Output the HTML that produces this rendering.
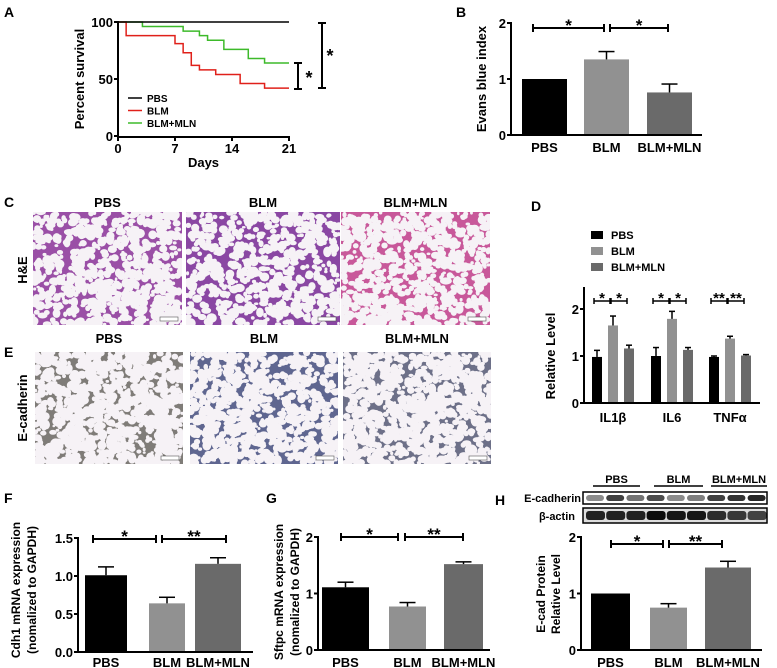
<!DOCTYPE html>
<html><head><meta charset="utf-8"><style>
html,body{margin:0;padding:0;background:#fff;}
svg{display:block;font-family:"Liberation Sans",Arial,sans-serif;font-weight:bold;}
</style></head><body>
<svg id="fig" width="777" height="668" viewBox="0 0 777 668" xmlns="http://www.w3.org/2000/svg">
<g id="g-static" font-size="14">
<text x="4" y="17">A</text>
<text x="456" y="17">B</text>
<text x="4" y="207">C</text>
<text x="531" y="211">D</text>
<text x="4" y="357">E</text>
<text x="4" y="503">F</text>
<text x="266" y="503">G</text>
<text x="495" y="505">H</text>
</g>
<g id="images"></g>
<g id="pa"></g>
<g id="pb"></g>
<g id="pd"></g>
<g id="pf"></g>
<g id="pg"></g>
<g id="ph"></g>
</svg>
<script>
// ---- Data ----
const survDays = [0, 21];
const survTicks = [0, 7, 14, 21];
const survYTicks = [0, 50, 100];
const pbsT = [0, 21];
const pbsV = [100, 100];
const blmT = [0, 1, 7, 8, 9, 10, 12, 15, 18, 21];
const blmV = [100, 88, 81, 73, 62, 58, 54, 46, 42, 42];
const mlnT = [0, 3, 8, 10, 11, 13, 16, 18, 21];
const mlnV = [100, 96, 92, 88, 84, 76, 68, 64, 64];

const groups = ["PBS", "BLM", "BLM+MLN"];
const evansVals = [1.0, 1.35, 0.76];
const evansErr = [0, 0.14, 0.15];
const evansTicks = [0, 1, 2];

const cytoCats = ["IL1β", "IL6", "TNFα"];
const cytoPBS = [0.98, 1.0, 0.98];
const cytoBLM = [1.65, 1.79, 1.37];
const cytoMLN = [1.16, 1.13, 1.01];
const cytoErrPBS = [0.14, 0.18, 0.02];
const cytoErrBLM = [0.2, 0.16, 0.05];
const cytoErrMLN = [0.07, 0.05, 0.02];
const cytoTicks = [0, 1, 2];

const cdh1Vals = [1.01, 0.64, 1.16];
const cdh1Err = [0.11, 0.08, 0.08];
const cdh1Ticks = ["0.0", "0.5", "1.0", "1.5"];

const sftpcVals = [1.11, 0.77, 1.52];
const sftpcErr = [0.09, 0.07, 0.04];
const sftpcTicks = [0, 1, 2];

const ecadVals = [1.0, 0.75, 1.46];
const ecadErr = [0, 0.07, 0.11];
const ecadTicks = [0, 1, 2];

const barColors = ["#000000", "#919191", "#6a6a6a"];
const NS = "http://www.w3.org/2000/svg";
function el(tag, attrs, parent) {
  const e = document.createElementNS(NS, tag);
  for (const k in attrs) e.setAttribute(k, attrs[k]);
  parent.appendChild(e);
  return e;
}
function txt(parent, x, y, s, size, anchor, name, rot) {
  const t = el("text", {x: x, y: y, "font-size": size, "text-anchor": anchor || "middle"}, parent);
  if (rot) t.setAttribute("transform", "rotate(-90 " + x + " " + y + ")");
  t.textContent = s;
  
  
  return t;
}
function line(parent, x1, y1, x2, y2, w, c, name) {
  const l = el("line", {x1: x1, y1: y1, x2: x2, y2: y2, stroke: c || "#000", "stroke-width": w || 2}, parent);
  
  
  return l;
}
function bracket(parent, x1, x2, y, label, name) {
  line(parent, x1, y, x2, y, 2, "#000", name);
  line(parent, x1, y - 4, x1, y + 4, 2, "#000", name + "-cap");
  line(parent, x2, y - 4, x2, y + 4, 2, "#000", name + "-cap");
  if (label) txt(parent, (x1 + x2) / 2, y + 3, label, 17, "middle", name + "-stars");
}

// ---- A: survival ----
(function () {
  const g = document.getElementById("pa");
  const X0 = 118, X1 = 289, Y0 = 136, Y1 = 22;
  const xs = d => X0 + (d - survDays[0]) / (survDays[1] - survDays[0]) * (X1 - X0);
  const ys = v => Y0 - v / 100 * (Y0 - Y1);
  function step(T, V, color, name) {
    let d = "M" + xs(T[0]) + "," + ys(V[0]);
    for (let i = 1; i < T.length; i++) d += " H" + xs(T[i]) + " V" + ys(V[i]);
    const p = el("path", {d: d, fill: "none", stroke: color, "stroke-width": 1.5}, g);
    
    
  }
  step(mlnT, mlnV, "#3dba2a", "survival-line-blm-mln");
  step(blmT, blmV, "#e0201a", "survival-line-blm");
  step(pbsT, pbsV, "#000", "survival-line-pbs");
  line(g, X0, Y1 - 1, X0, Y0 + 1, 2, "#000", "y-axis");
  line(g, X0 - 1, Y0 + 1, X1 + 1, Y0 + 1, 2, "#000", "x-axis");
  survYTicks.forEach(v => { line(g, X0 - 4, ys(v), X0, ys(v), 2, "#000", "y-tick"); txt(g, X0 - 5, ys(v) + 5, String(v), 13, "end", "y-tick-label"); });
  survTicks.forEach(v => { line(g, xs(v), Y0 + 1, xs(v), Y0 + 5, 2, "#000", "x-tick"); txt(g, xs(v), Y0 + 17, String(v), 13, "middle", "x-tick-label"); });
  txt(g, (X0 + X1) / 2, 167, "Days", 13, "middle", "x-axis-title");
  txt(g, 84, 79, "Percent survival", 13, "middle", "y-axis-title", true);
  const leg = [["PBS", "#000"], ["BLM", "#e0201a"], ["BLM+MLN", "#3dba2a"]];
  leg.forEach((l, i) => {
    const y = 98 + i * 12.5;
    line(g, 128, y, 142, y, 1.5, l[1], "legend-swatch");
    txt(g, 147, y + 4, l[0], 10, "start", "legend-entry");
  });
  line(g, 298, 63, 298, 89, 2, "#000", "sig-bracket-small");
  line(g, 294, 63, 302, 63, 2, "#000", "sig-cap"); line(g, 294, 89, 302, 89, 2, "#000", "sig-cap");
  txt(g, 309, 84, "*", 18, "middle", "sig-star");
  line(g, 322, 23, 322, 88, 2, "#000", "sig-bracket-large");
  line(g, 318, 23, 326, 23, 2, "#000", "sig-cap"); line(g, 318, 88, 326, 88, 2, "#000", "sig-cap");
  txt(g, 330, 62, "*", 18, "middle", "sig-star");
})();

// ---- generic bar chart ----
function barChart(gid, o) {
  const g = document.getElementById(gid);
  const ys = v => o.y0 - (v - o.vmin) / (o.vmax - o.vmin) * (o.y0 - o.y1);
  o.vals.forEach((v, i) => {
    const x = o.bx[i], w = o.bw[i];
    const r = el("rect", {x: x, y: ys(v), width: w, height: o.y0 - ys(v), fill: barColors[i]}, g);
    
    
    if (o.err[i] > 0) {
      line(g, x + w / 2, ys(v), x + w / 2, ys(v + o.err[i]), 1.5, "#000", "error-bar");
      line(g, x + w / 2 - 8, ys(v + o.err[i]), x + w / 2 + 8, ys(v + o.err[i]), 1.5, "#000", "error-cap");
    }
    txt(g, x + w / 2, o.labY, o.names[i], 13, "middle", "x-tick-label");
  });
  line(g, o.x0, o.y1 - 1, o.x0, o.y0 + 1, 2, "#000", "y-axis");
  line(g, o.x0 - 1, o.y0, o.xEnd, o.y0, 2, "#000", "x-axis");
  o.ticks.forEach(t => {
    const v = parseFloat(t);
    line(g, o.x0 - 4, ys(v), o.x0, ys(v), 2, "#000", "y-tick");
    txt(g, o.x0 - 5, ys(v) + 5, String(t), 13, "end", "y-tick-label");
  });
  return {g: g, ys: ys};
}

// B
(function () {
  const c = barChart("pb", {x0: 511, xEnd: 702, y0: 135, y1: 23, vmin: 0, vmax: 2, vals: evansVals, err: evansErr, names: groups,
    bx: [522, 584, 647], bw: [45, 45, 45], labY: 152, ticks: evansTicks});
  txt(c.g, 486, 79, "Evans blue index", 13, "middle", "y-axis-title", true);
  bracket(c.g, 533, 604, 28, "*", "sig-bracket-pbs-blm");
  bracket(c.g, 610, 668, 28, "*", "sig-bracket-blm-mln");
})();

// D grouped
(function () {
  const g = document.getElementById("pd");
  const X0 = 584, Y0 = 403;
  const ys = v => Y0 - v / 2 * (Y0 - 309);
  const series = [cytoPBS, cytoBLM, cytoMLN];
  const errs = [cytoErrPBS, cytoErrBLM, cytoErrMLN];
  const catX = [592, 651, 709];
  cytoCats.forEach((c, ci) => {
    series.forEach((s, si) => {
      const x = catX[ci] + si * 16, w = 10;
      const r = el("rect", {x: x, y: ys(s[ci]), width: w, height: Y0 - ys(s[ci]), fill: barColors[si]}, g);
      
      
      line(g, x + w / 2, ys(s[ci]), x + w / 2, ys(s[ci] + errs[si][ci]), 1.5, "#000", "error-bar");
      line(g, x + w / 2 - 3, ys(s[ci] + errs[si][ci]), x + w / 2 + 3, ys(s[ci] + errs[si][ci]), 1.5, "#000", "error-cap");
    });
    txt(g, catX[ci] + 21, 422, c, 13, "middle", "x-tick-label");
    const by = 301;
    line(g, catX[ci] + 2, by, catX[ci] + 35, by, 1.5, "#000", "sig-bracket");
    [2, 18, 19, 35].forEach(dx => line(g, catX[ci] + dx, by - 3, catX[ci] + dx, by + 3, 1.5, "#000", "sig-cap"));
    const st = ci === 2 ? ["**", "**"] : ["*", "*"];
    txt(g, catX[ci] + 10, by + 2, st[0], 15, "middle", "sig-stars");
    txt(g, catX[ci] + 27, by + 2, st[1], 15, "middle", "sig-stars");
  });
  line(g, X0, 287, X0, Y0 + 1, 2, "#000", "y-axis");
  line(g, X0 - 1, Y0, 760, Y0, 2, "#000", "x-axis");
  cytoTicks.forEach(v => { line(g, X0 - 4, ys(v), X0, ys(v), 2, "#000", "y-tick"); txt(g, X0 - 5, ys(v) + 5, String(v), 13, "end", "y-tick-label"); });
  txt(g, 555, 356, "Relative Level", 13, "middle", "y-axis-title", true);
  groups.forEach((n, i) => {
    const r = el("rect", {x: 591, y: 231 + i * 16, width: 12, height: 8, fill: barColors[i]}, g);
    
    
    txt(g, 611, 239 + i * 16, n, 11, "start", "legend-entry");
  });
})();

// F
(function () {
  const c = barChart("pf", {x0: 78, xEnd: 253, y0: 652, y1: 538, vmin: 0, vmax: 1.5, vals: cdh1Vals, err: cdh1Err, names: groups,
    bx: [85, 149, 195], bw: [42, 36, 46], labY: 667, ticks: cdh1Ticks});
  txt(c.g, 20, 590, "Cdh1 mRNA expression", 12, "middle", "y-axis-title", true);
  txt(c.g, 36, 590, "(nomalized to GAPDH)", 12, "middle", "y-axis-subtitle", true);
  bracket(c.g, 93, 156, 539, "*", "sig-bracket-pbs-blm");
  bracket(c.g, 162, 226, 539, "**", "sig-bracket-blm-mln");
})();

// G
(function () {
  const c = barChart("pg", {x0: 318, xEnd: 490, y0: 650, y1: 537, vmin: 0, vmax: 2, vals: sftpcVals, err: sftpcErr, names: groups,
    bx: [322, 389, 444], bw: [47, 37, 39], labY: 667, ticks: sftpcTicks});
  txt(c.g, 283, 592, "Sftpc mRNA expression", 12, "middle", "y-axis-title", true);
  txt(c.g, 299, 592, "(nomalized to GAPDH)", 12, "middle", "y-axis-subtitle", true);
  bracket(c.g, 341, 398, 537, "*", "sig-bracket-pbs-blm");
  bracket(c.g, 405, 463, 537, "**", "sig-bracket-blm-mln");
})();

// H
(function () {
  const c = barChart("ph", {x0: 581, xEnd: 762, y0: 650, y1: 537, vmin: 0, vmax: 2, vals: ecadVals, err: ecadErr, names: groups,
    bx: [591, 650, 705], bw: [39, 37, 46], labY: 667, ticks: ecadTicks});
  txt(c.g, 545, 594, "E-cad Protein", 12, "middle", "y-axis-title", true);
  txt(c.g, 560, 594, "Relative Level", 12, "middle", "y-axis-title-2", true);
  bracket(c.g, 611, 663, 544, "*", "sig-bracket-pbs-blm");
  bracket(c.g, 669, 722, 544, "**", "sig-bracket-blm-mln");
  const hdr = [["PBS", 593, 640], ["BLM", 654, 703], ["BLM+MLN", 711, 767]];
  hdr.forEach(h => { txt(c.g, (h[1] + h[2]) / 2, 483, h[0], 11, "middle", "blot-group-label"); line(c.g, h[1], 486, h[2], 486, 1.5, "#000", "blot-group-line"); });
  txt(c.g, 581, 502, "E-cadherin", 11, "end", "blot-row-label");
  txt(c.g, 575, 520, "β-actin", 11, "end", "blot-row-label");
  const ecadInt = [0.45, 0.75, 0.55, 0.7, 0.45, 0.5, 0.75, 0.8, 0.85];
  const actInt = [0.85, 0.85, 0.85, 0.95, 0.9, 0.9, 0.8, 0.75, 0.7];
  const b1 = el("rect", {x: 583, y: 492, width: 184, height: 12, fill: "#fff", stroke: "#000", "stroke-width": 1.5}, c.g);
   
  const b2 = el("rect", {x: 583, y: 508, width: 184, height: 15, fill: "#ddd", stroke: "#000", "stroke-width": 1.5}, c.g);
   
  for (let i = 0; i < 9; i++) {
    const x = 586 + i * 20.2;
    const e1 = el("rect", {x: x, y: 495, width: 18, height: 6, rx: 3, fill: "#000", opacity: ecadInt[i]}, c.g);
     
    const e2 = el("rect", {x: x, y: 511, width: 19, height: 9, rx: 3, fill: "#000", opacity: actInt[i]}, c.g);
     
  }
})();

// ---- histology images (decorative) ----
(function () {
  const g = document.getElementById("images");
  let seed = 7;
  const rnd = () => { seed = (seed * 16807) % 2147483647; return (seed - 1) / 2147483646; };
  const cols = [[33, 149], [186, 154], [341, 149]];
  const ecCols = [[35, 148], [190, 148], [343, 148]];
  const heBg = ["#9a4fa6", "#8a47a3", "#c8589a"];
  const ecBg = ["#7f7c78", "#5f6690", "#6d7088"];
  function tissue(x, y, w, h, bg, holeDensity, rmax, name) {
    const grp = el("g", {}, g);
    
    
    const cp = el("clipPath", {id: "cp" + name}, grp);
    el("rect", {x: x, y: y, width: w, height: h}, cp);
    const inner = el("g", {"clip-path": "url(#cp" + name + ")"}, grp);
    el("rect", {x: x, y: y, width: w, height: h, fill: bg}, inner);
    const n = Math.round(w * h / holeDensity);
    for (let i = 0; i < n; i++) {
      const cx = x + rnd() * w, cy = y + rnd() * h;
      const r = 1.5 + rnd() * rmax;
      el("ellipse", {cx: cx, cy: cy, rx: r * (0.8 + rnd() * 0.5), ry: r * (0.7 + rnd() * 0.5), fill: "#f6f2f6"}, inner);
    }
    el("rect", {x: x + w - 22, y: y + h - 8, width: 18, height: 4, fill: "#fff", stroke: "#555", "stroke-width": 0.6}, inner);
  }
  const heads = ["PBS", "BLM", "BLM+MLN"];
  cols.forEach((c, i) => {
    tissue(c[0], 212, c[1], 113, heBg[i], i === 1 ? 26 : 22, 3.2, "he-image-" + i);
    txt(g, c[0] + c[1] / 2, 207, heads[i], 13, "middle", "he-column-header");
  });
  ecCols.forEach((c, i) => {
    tissue(c[0], 352, c[1], 112, ecBg[i], i === 1 ? 22 : 18, 3.4, "ecad-image-" + i);
    txt(g, c[0] + c[1] / 2, 343, heads[i], 13, "middle", "ecad-column-header");
  });
  txt(g, 27, 270, "H&E", 13, "middle", "row-label-he", true);
  txt(g, 27, 408, "E-cadherin", 13, "middle", "row-label-ecad", true);
})();
</script>
</body></html>
